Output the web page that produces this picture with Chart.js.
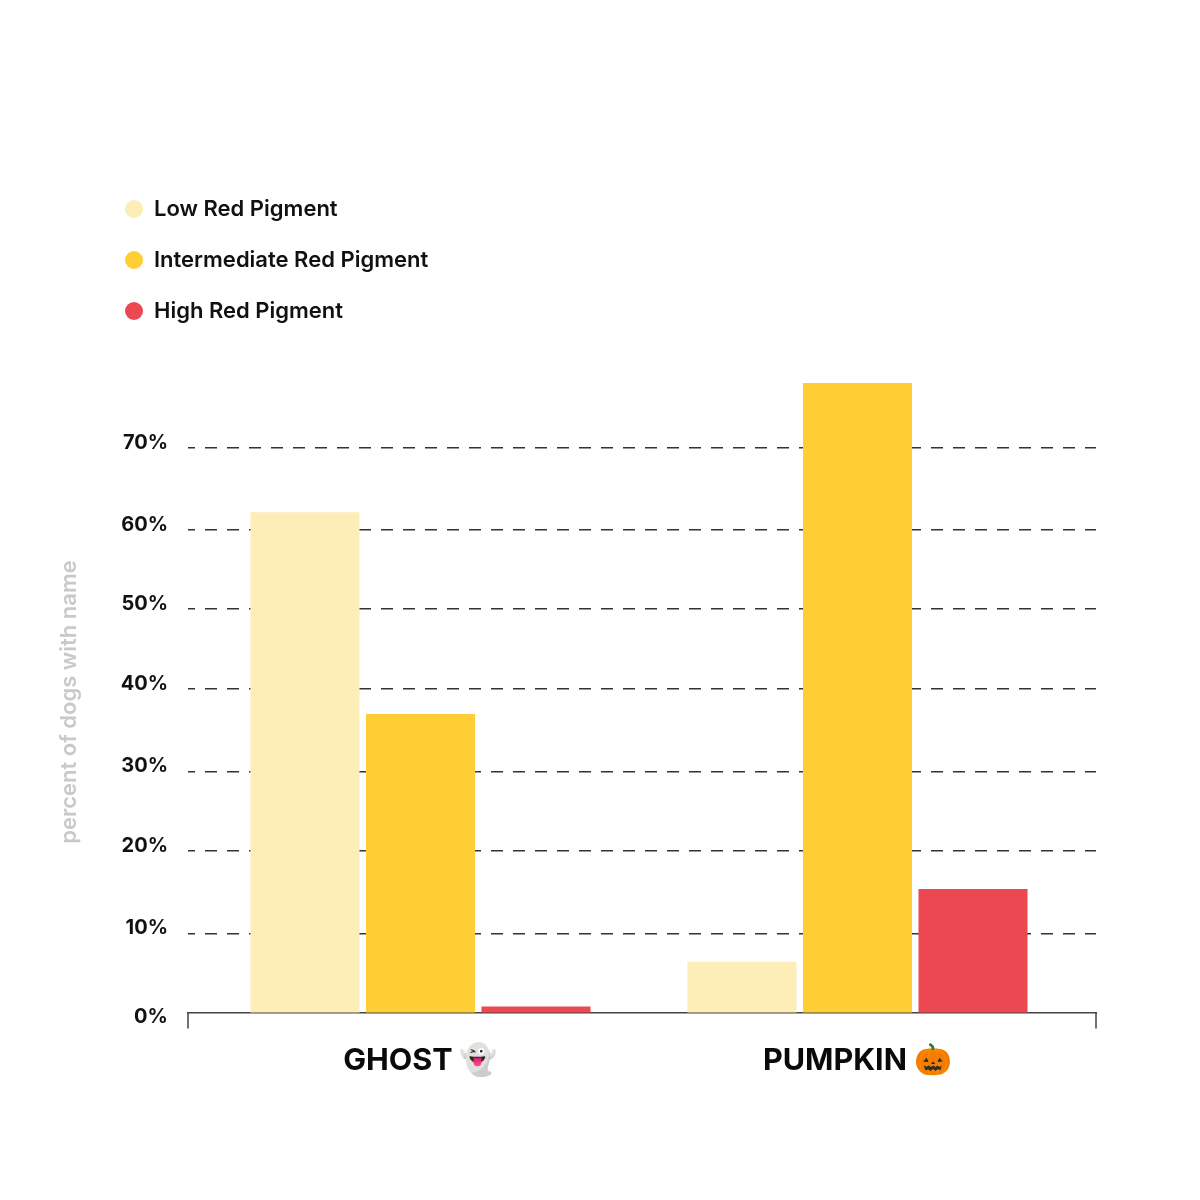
<!DOCTYPE html>
<html><head><meta charset="utf-8">
<style>html,body{margin:0;padding:0;background:#fff}canvas{display:block}</style>
<script src="https://cdn.jsdelivr.net/npm/chart.js@4"></script></head>
<body><canvas id="c" width="1200" height="1200" style="width:1200px;height:1200px"></canvas>
<script>
const categories = ['GHOST 👻', 'PUMPKIN 🎃'];
const seriesNames = ['Low Red Pigment', 'Intermediate Red Pigment', 'High Red Pigment'];
const lowValues = [62, 6.3];
const intermediateValues = [37, 78];
const highValues = [0.75, 15.3];
const seriesColors = ['#FDEDB6', '#FFCE34', '#EC4852'];
const gridValues = [9.8, 20, 29.9, 40.1, 50, 59.8, 70];
const gridLabels = ['10%', '20%', '30%', '40%', '50%', '60%', '70%'];
const zeroLabel = '0%';
const axisTitle = 'percent of dogs with name';
const FONT = 'Inter, "Noto Color Emoji", sans-serif';

const toPoints = a => a.map((y, i) => ({x: i, y}));
const endTicks = {
  id: 'endTicks',
  afterLayout(chart) {
    const lg = chart.legend;
    const w = lg.right - lg.left, h = lg.bottom - lg.top;
    lg.left = 96; lg.right = lg.left + w; lg.top = 169; lg.bottom = lg.top + h;
    lg.adjustHitBoxes();
  },
  afterDraw(chart) {
    const {ctx, chartArea: a} = chart;
    ctx.save();
    ctx.strokeStyle = '#444'; ctx.lineWidth = 1.5;
    ctx.beginPath();
    ctx.moveTo(a.left, a.bottom); ctx.lineTo(a.left, a.bottom + 16);
    ctx.moveTo(a.right, a.bottom); ctx.lineTo(a.right, a.bottom + 16);
    ctx.stroke();
    ctx.restore();
  }
};
new Chart(document.getElementById('c'), {
  type: 'bar',
  data: {datasets: [lowValues, intermediateValues, highValues].map((v, i) => ({
    label: seriesNames[i], data: toPoints(v), backgroundColor: seriesColors[i],
    borderWidth: 0, clip: false,
    categoryPercentage: 0.793, barPercentage: 0.944
  }))},
  plugins: [endTicks],
  options: {
    responsive: false, animation: false, devicePixelRatio: 1,
    layout: {padding: {left: 56, right: 104, top: 391.5, bottom: 0}},
    plugins: {
      tooltip: {enabled: false},
      legend: {
        position: 'chartArea', align: 'start',
        labels: {usePointStyle: true, pointStyle: 'circle', boxHeight: 12.73, boxWidth: 18, pointStyleWidth: 18,
          padding: 29, color: '#111', font: {family: FONT, size: 22, weight: '600'}}
      }
    },
    scales: {
      x: {
        type: 'linear', offset: false, min: -0.532, max: 1.5458,
        afterBuildTicks: s => { s.ticks = [{value: 0}, {value: 1}]; },
        afterFit: s => { s.height = 187.5; },
        grid: {display: false, offset: false},
        border: {display: true, color: '#444', width: 1.5},
        ticks: {autoSkip: false, maxRotation: 0, padding: 22, color: '#0a0a0a',
          font: {family: FONT, size: 30.5, weight: '700'},
          callback: v => categories[v] ?? ''}
      },
      y: {
        min: 0, max: 76.95, weight: 2,
        afterBuildTicks: s => { s.ticks = gridValues.map(value => ({value})); },
        afterFit: s => { s.width = 132; },
        grid: {color: '#333', lineWidth: 1.4, drawTicks: false},
        border: {display: false, dash: [12, 10], dashOffset: 5},
        title: {display: true, text: axisTitle, color: '#c9c9c9', padding: 0,
          font: {family: FONT, size: 22, weight: '600'}},
        ticks: {padding: 20, labelOffset: -5, autoSkip: false, color: '#111',
          font: {family: FONT, size: 20, weight: '700'},
          callback: (v, i) => gridLabels[i]}
      },
      y2: {
        position: 'left', min: 0, max: 76.95, weight: 1,
        afterBuildTicks: s => { s.ticks = [{value: 0}]; },
        afterFit: s => { s.width = 0; },
        grid: {display: false}, border: {display: false},
        ticks: {mirror: true, padding: -54, labelOffset: 4.5, autoSkip: false, color: '#111',
          font: {family: FONT, size: 20, weight: '700'},
          callback: () => zeroLabel}
      }
    }
  }
});
</script></body></html>
